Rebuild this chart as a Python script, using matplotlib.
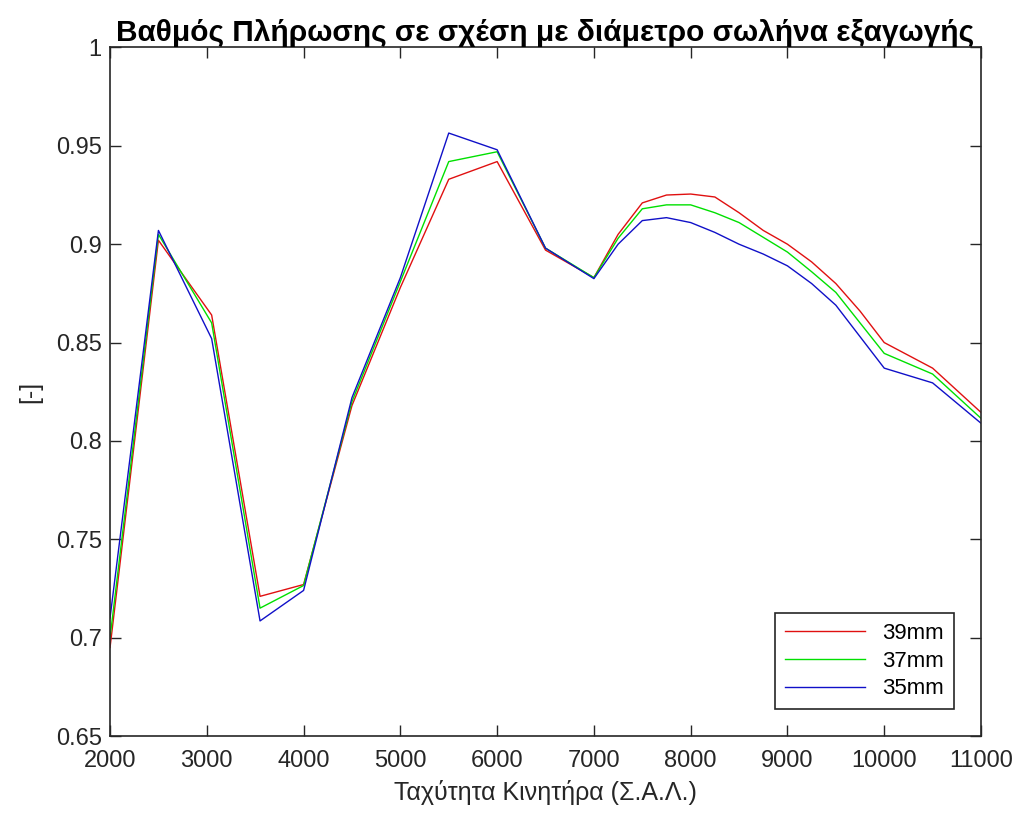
import matplotlib
matplotlib.use("Agg")
import matplotlib.pyplot as plt
import matplotlib.ticker as mticker

# engine speed (rpm)
rpm = [2000, 2500, 3050, 3550, 4000, 4500, 5000, 5500, 6000, 6500, 7000, 7250,
       7500, 7750, 8000, 8250, 8500, 8750, 9000, 9250, 9500, 9750, 10000, 10500, 11000]

# volumetric efficiency per exhaust pipe diameter
ve_39mm = [0.695, 0.902, 0.864, 0.721, 0.727, 0.818, 0.878, 0.933, 0.942, 0.897, 0.883, 0.905,
           0.921, 0.925, 0.9255, 0.924, 0.916, 0.907, 0.900, 0.891, 0.880, 0.866, 0.850, 0.837, 0.8145]
ve_37mm = [0.700, 0.905, 0.860, 0.715, 0.7265, 0.820, 0.881, 0.942, 0.947, 0.898, 0.883, 0.903,
           0.918, 0.920, 0.920, 0.916, 0.911, 0.9035, 0.896, 0.886, 0.8755, 0.860, 0.8445, 0.834, 0.8115]
ve_35mm = [0.710, 0.907, 0.852, 0.7085, 0.724, 0.822, 0.883, 0.9565, 0.948, 0.898, 0.8825, 0.900,
           0.912, 0.9135, 0.911, 0.906, 0.900, 0.895, 0.889, 0.880, 0.869, 0.853, 0.837, 0.8295, 0.809]

labels = ["39mm", "37mm", "35mm"]
x_ticks = [2000, 3000, 4000, 5000, 6000, 7000, 8000, 9000, 10000, 11000]
y_ticks = [0.65, 0.7, 0.75, 0.8, 0.85, 0.9, 0.95, 1.0]

AX_COLOR = "#262626"

plt.rcParams["font.family"] = ["Liberation Sans", "DejaVu Sans"]

fig = plt.figure(figsize=(10.17, 8.23), dpi=100, facecolor="white")
ax = fig.add_axes([0.1082, 0.1057, 0.8564, 0.8366])

ax.plot(rpm, ve_39mm, color="#e01010", linewidth=1.0, label=labels[0])
ax.plot(rpm, ve_37mm, color="#00e000", linewidth=1.0, label=labels[1])
ax.plot(rpm, ve_35mm, color="#1010c8", linewidth=1.0, label=labels[2])

ax.set_xlim(2000, 11000)
ax.set_ylim(0.65, 1.0)
ax.set_xticks(x_ticks)
ax.set_yticks(y_ticks)
ax.yaxis.set_major_formatter(mticker.FuncFormatter(lambda v, _: f"{v:g}"))

ax.tick_params(direction="in", length=8, width=1, top=True, right=True,
               colors=AX_COLOR, labelsize=17, pad=6)
ax.tick_params(axis="x", pad=10)
for s in ax.spines.values():
    s.set_color(AX_COLOR)
    s.set_linewidth(1.2)

ax.set_title("Βαθμός Πλήρωσης σε σχέση με διάμετρο σωλήνα εξαγωγής",
             fontsize=21.5, fontweight="bold", color="black", pad=5)
ax.set_xlabel("Ταχύτητα Κινητήρα (Σ.Α.Λ.)", fontsize=18, color=AX_COLOR, labelpad=6)
ax.set_ylabel("[-]", fontsize=18, color=AX_COLOR, labelpad=10)

leg = ax.legend(loc="lower right", fontsize=16, frameon=True, fancybox=False,
                edgecolor=AX_COLOR, framealpha=1, handlelength=3.6,
                borderaxespad=1.2, labelspacing=0.3, borderpad=0.45)
leg.get_frame().set_linewidth(1.2)

fig.savefig("out.png", dpi=100, facecolor="white")
